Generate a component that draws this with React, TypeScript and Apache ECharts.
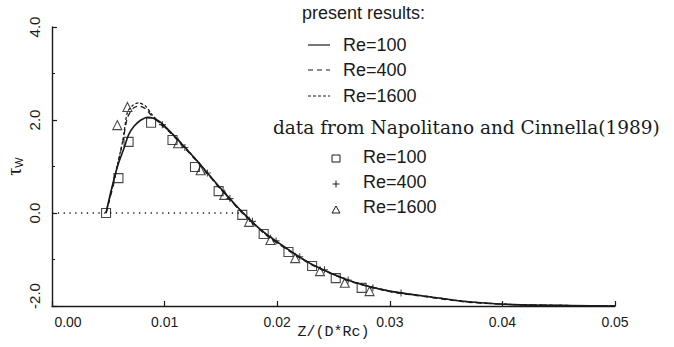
import React, { useEffect, useRef } from "react";
import * as echarts from "echarts";

// ---- data ----
const curveX = [0.0048, 0.0052, 0.0058, 0.0064, 0.0068, 0.0073, 0.0079, 0.0085, 0.009, 0.0096, 0.0107, 0.0129, 0.0148, 0.0169, 0.0189, 0.0212, 0.0232, 0.0265, 0.03, 0.0335, 0.037, 0.041, 0.046, 0.05];
const re100Curve = [0, 0.43, 0.99, 1.4, 1.68, 1.87, 2.0, 2.06, 2.04, 1.96, 1.7, 1.12, 0.58, 0.02, -0.43, -0.82, -1.12, -1.46, -1.68, -1.8, -1.91, -1.97, -1.99, -2.0];
const curveXHigh = [0.0048, 0.0054, 0.0058, 0.0063, 0.0067, 0.0072, 0.0077, 0.0083, 0.0089, 0.0096, 0.0107, 0.0129, 0.0148, 0.0169, 0.0189, 0.0212, 0.0232, 0.0265, 0.03, 0.0335, 0.037, 0.041, 0.046, 0.05];
const re400Curve = [0, 0.55, 1.0, 1.55, 2.05, 2.25, 2.3, 2.24, 2.08, 1.92, 1.68, 1.1, 0.56, 0.0, -0.45, -0.84, -1.13, -1.47, -1.69, -1.81, -1.92, -1.97, -1.99, -2.0];
const re1600Curve = [0, 0.6, 1.03, 1.57, 2.17, 2.32, 2.37, 2.3, 2.11, 1.93, 1.7, 1.12, 0.57, 0.01, -0.44, -0.83, -1.12, -1.46, -1.68, -1.8, -1.91, -1.97, -1.99, -2.0];

const squareX = [0.0048, 0.0059, 0.0068, 0.0088, 0.0107, 0.0127, 0.0148, 0.0169, 0.0188, 0.021, 0.0231, 0.0252, 0.0275];
const squareY = [0, 0.75, 1.53, 1.94, 1.57, 0.99, 0.47, -0.04, -0.45, -0.84, -1.14, -1.4, -1.61];
const plusX = [0.0098, 0.0118, 0.0138, 0.0158, 0.0178, 0.0199, 0.022, 0.0242, 0.0263, 0.0285, 0.031];
const plusY = [1.9, 1.41, 0.86, 0.31, -0.18, -0.6, -0.94, -1.22, -1.44, -1.61, -1.72];
const triX = [0.0058, 0.0067, 0.0112, 0.0132, 0.0153, 0.0175, 0.0194, 0.0216, 0.0238, 0.026, 0.0282];
const triY = [1.89, 2.28, 1.5, 0.92, 0.39, -0.19, -0.58, -0.97, -1.25, -1.5, -1.68];

const zeroLineX = [0, 0.0166];
const zeroLineY = [0, 0];

const xTicks = { min: 0, max: 0.05, interval: 0.01 };
const yTicks = { min: -2, max: 4, interval: 2 };

const legendLines = ["Re=100", "Re=400", "Re=1600"];
const legendData = ["Re=100", "Re=400", "Re=1600"];

const INK = "#1a1a1a";
const SANS = '"Liberation Sans", Arial, sans-serif';
const SERIF = '"DejaVu Serif", "Liberation Serif", serif';

const zip = (xs: number[], ys: number[]) => xs.map((x, i) => [x, ys[i]]);

export default function App() {
  const ref = useRef<HTMLDivElement>(null);
  useEffect(() => {
    if (!ref.current) return;
    const chart = echarts.init(ref.current, undefined, { renderer: "svg" });

    const rowY1 = [45, 70, 96];
    const rowY2 = [157, 182, 207];
    const graphic: any[] = [
      { type: "text", x: 302, y: 13, style: { text: "present results:", fontSize: 18, fontFamily: SANS, fill: INK, align: "left", verticalAlign: "middle" } },
      { type: "text", x: 273, y: 127, style: { text: "data from Napolitano and Cinnella(1989)", fontSize: 18.5, fontFamily: SERIF, fill: INK, align: "left", verticalAlign: "middle" } },
    ];
    const dashes = [null, [5, 4], [3, 2]];
    legendLines.forEach((t, i) => {
      graphic.push({ type: "line", shape: { x1: 308, y1: rowY1[i], x2: 330, y2: rowY1[i] }, style: { stroke: INK, lineWidth: 1.2, lineDash: dashes[i] || undefined } });
      graphic.push({ type: "text", x: 343, y: rowY1[i], style: { text: t, fontSize: 18, fontFamily: SANS, fill: INK, align: "left", verticalAlign: "middle" } });
    });
    legendData.forEach((t, i) => {
      graphic.push({ type: "text", x: 363, y: rowY2[i], style: { text: t, fontSize: 18, fontFamily: SANS, fill: INK, align: "left", verticalAlign: "middle" } });
    });
    const mx = 336;
    graphic.push({ type: "rect", shape: { x: mx - 4, y: rowY2[0] - 2, width: 8, height: 7 }, style: { fill: "none", stroke: INK, lineWidth: 1 } });
    graphic.push({ type: "line", shape: { x1: mx - 3.5, y1: rowY2[1] + 2, x2: mx + 3.5, y2: rowY2[1] + 2 }, style: { stroke: INK, lineWidth: 1 } });
    graphic.push({ type: "line", shape: { x1: mx, y1: rowY2[1] - 1.5, x2: mx, y2: rowY2[1] + 5.5 }, style: { stroke: INK, lineWidth: 1 } });
    graphic.push({ type: "polygon", shape: { points: [[mx, rowY2[2] - 1], [mx - 4, rowY2[2] + 6], [mx + 4, rowY2[2] + 6]] }, style: { fill: "none", stroke: INK, lineWidth: 1 } });

    const scatterStyle = { color: "rgba(0,0,0,0)", borderColor: INK, borderWidth: 1.1 };

    chart.setOption({
      animation: false,
      backgroundColor: "#ffffff",
      grid: { left: 52, right: 59, top: 27, bottom: 41, containLabel: false, outerBoundsMode: "none" },
      xAxis: {
        type: "value",
        min: xTicks.min,
        max: xTicks.max,
        interval: xTicks.interval,
        axisLine: { onZero: false, lineStyle: { color: INK, width: 1.4 } },
        axisTick: { inside: true, length: 5, lineStyle: { color: INK, width: 1.2 } },
        splitLine: { show: false },
        axisLabel: {
          formatter: (v: number) => (v === 0 ? "{f|" + v.toFixed(2) + "}" : v.toFixed(2)),
          fontSize: 14,
          color: INK,
          fontFamily: SANS,
          margin: 9,
          rich: { f: { fontSize: 14, fontFamily: SANS, color: INK, padding: [0, 0, 0, 32] } },
        },
        name: "Z/(D*Rc)",
        nameLocation: "middle",
        nameGap: 19,
        nameMoveOverlap: false,
        nameTextStyle: { fontSize: 15, color: INK, fontFamily: '"Liberation Mono", monospace' },
      },
      yAxis: {
        type: "value",
        min: yTicks.min,
        max: yTicks.max,
        interval: yTicks.interval,
        axisLine: { show: true, onZero: false, lineStyle: { color: INK, width: 1.4 } },
        axisTick: { show: true, inside: true, length: 5, lineStyle: { color: INK, width: 1.2 } },
        minorTick: { show: true, splitNumber: 2, length: 3, lineStyle: { color: INK, width: 1 } },
        splitLine: { show: false },
        axisLabel: {
          rotate: 90,
          formatter: (v: number) => (v === -2 ? "{b|" + v.toFixed(1) + "}" : v.toFixed(1)),
          fontSize: 15,
          color: INK,
          fontFamily: SANS,
          margin: 10,
          rich: { b: { fontSize: 15, fontFamily: SANS, color: INK, padding: [0, 0, 0, 20] } },
        },
        name: "{t|τ}{s|W}",
        nameLocation: "middle",
        nameRotate: 90,
        nameGap: 28,
        nameMoveOverlap: false,
        nameTextStyle: {
          color: INK,
          rich: {
            t: { fontSize: 20, fontFamily: '"Liberation Serif", serif', color: INK },
            s: { fontSize: 11, fontFamily: SANS, color: INK, verticalAlign: "bottom", padding: [8, 0, 0, 0] },
          },
        },
      },
      series: [
        { type: "line", name: "zero", data: zip(zeroLineX, zeroLineY), symbol: "none", lineStyle: { color: INK, width: 1.3, type: [1.3, 4.5] } },
        { type: "line", name: "Re=100", data: zip(curveX, re100Curve), symbol: "none", smooth: 0.25, lineStyle: { color: INK, width: 1.6 } },
        { type: "line", name: "Re=400", data: zip(curveXHigh, re400Curve), symbol: "none", smooth: 0.25, lineStyle: { color: INK, width: 1.3, type: [5, 4] } },
        { type: "line", name: "Re=1600", data: zip(curveXHigh, re1600Curve), symbol: "none", smooth: 0.25, lineStyle: { color: INK, width: 1.3, type: [3, 2] } },
        { type: "scatter", name: "data Re=100", data: zip(squareX, squareY), symbol: "rect", symbolSize: 9, itemStyle: scatterStyle },
        { type: "scatter", name: "data Re=400", data: zip(plusX, plusY), symbol: "path://M4,0L4,8M0,4L8,4", symbolSize: 7, itemStyle: scatterStyle },
        { type: "scatter", name: "data Re=1600", data: zip(triX, triY), symbol: "triangle", symbolSize: 9, itemStyle: scatterStyle },
      ],
      graphic,
    });
    return () => chart.dispose();
  }, []);
  return <div ref={ref} style={{ position: "fixed", left: 0, top: 0, width: 674, height: 347, background: "#fff" }} />;
}
